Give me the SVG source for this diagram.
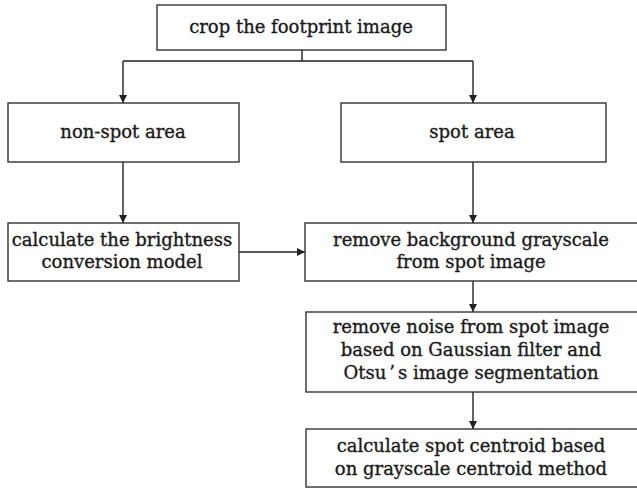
<svg xmlns="http://www.w3.org/2000/svg" width="637" height="491" viewBox="0 0 637 491">
  <defs>
    <marker id="arrow" viewBox="0 0 10 10" refX="10" refY="5" markerWidth="8" markerHeight="8" markerUnits="userSpaceOnUse" orient="auto">
      <path d="M0,0 L10,5 L0,10 z" fill="#222"/>
    </marker>
    <style>
      .box { fill: #fff; stroke: #333; stroke-width: 1.4; }
      .edge { fill: none; stroke: #222; stroke-width: 1.4; }
      .lbl { font-family: 'DejaVu Serif', 'Liberation Serif', serif; font-size: 18px; fill: #1a1a1a; stroke: #1a1a1a; stroke-width: 0.35; text-anchor: middle; }
    </style>
  </defs>
  <rect width="637" height="491" fill="#fff"/>

  <g id="connectors">
    <path class="edge" d="M302,50 V61"/>
    <path class="edge" d="M123,61 H473"/>
    <path class="edge" d="M123,61 V103" marker-end="url(#arrow)"/>
    <path class="edge" d="M473,61 V103" marker-end="url(#arrow)"/>
    <path class="edge" d="M123,162 V223" marker-end="url(#arrow)"/>
    <path class="edge" d="M473,162 V223" marker-end="url(#arrow)"/>
    <path class="edge" d="M239,252 H305" marker-end="url(#arrow)"/>
    <path class="edge" d="M473,281 V312" marker-end="url(#arrow)"/>
    <path class="edge" d="M473,392 V429" marker-end="url(#arrow)"/>
  </g>

  <g id="crop">
    <rect class="box" x="157" y="5" width="289" height="45"/>
    <text class="lbl" x="301" y="33">crop the footprint image</text>
  </g>

  <g id="non-spot">
    <rect class="box" x="8" y="103" width="231" height="59"/>
    <text class="lbl" x="123" y="138">non-spot area</text>
  </g>

  <g id="spot">
    <rect class="box" x="341" y="103" width="265" height="59"/>
    <text class="lbl" x="472" y="138">spot area</text>
  </g>

  <g id="brightness">
    <rect class="box" x="8" y="223" width="231" height="58"/>
    <text class="lbl" x="122" y="246">calculate the brightness</text>
    <text class="lbl" x="122" y="268">conversion model</text>
  </g>

  <g id="background">
    <rect class="box" x="305" y="223" width="336" height="58"/>
    <text class="lbl" x="471" y="246">remove background grayscale</text>
    <text class="lbl" x="471" y="268">from spot image</text>
  </g>

  <g id="denoise">
    <rect class="box" x="306" y="312" width="335" height="80"/>
    <text class="lbl" x="471" y="333">remove noise from spot image</text>
    <text class="lbl" x="471" y="356">based on Gaussian filter and</text>
    <text class="lbl" x="471" y="379">Otsu<tspan dx="3">’</tspan><tspan dx="3">s image segmentation</tspan></text>
  </g>

  <g id="centroid">
    <rect class="box" x="306" y="429" width="335" height="58"/>
    <text class="lbl" x="471" y="452">calculate spot centroid based</text>
    <text class="lbl" x="471" y="475">on grayscale centroid method</text>
  </g>
</svg>
